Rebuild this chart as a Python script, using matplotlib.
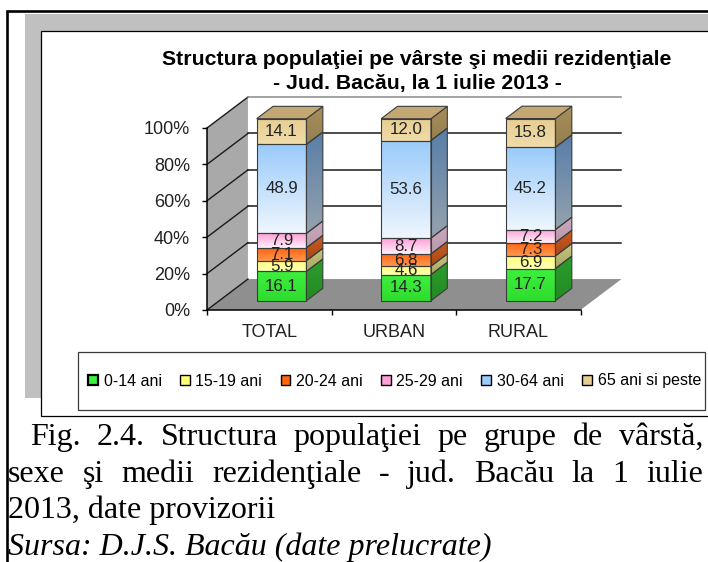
import numpy as np
import matplotlib
matplotlib.use('Agg')
import matplotlib.pyplot as plt
from matplotlib.patches import Polygon, Rectangle, Patch
from matplotlib.colors import LinearSegmentedColormap

# ---- data ----
categories = ['TOTAL', 'URBAN', 'RURAL']
age_groups = ['0-14 ani', '15-19 ani', '20-24 ani', '25-29 ani', '30-64 ani', '65 ani si peste']
total = [16.1, 5.9, 7.1, 7.9, 48.9, 14.1]
urban = [14.3, 4.6, 6.8, 8.7, 53.6, 12.0]
rural = [17.7, 6.9, 7.3, 7.2, 45.2, 15.8]
y_ticks = [0, 20, 40, 60, 80, 100]

title_lines = ['Structura populaţiei pe vârste şi medii rezidenţiale',
               '- Jud. Bacău, la 1 iulie 2013 -']
caption_lines = ['Fig. 2.4. Structura populaţiei pe grupe de vârstă,',
                 'sexe şi medii rezidenţiale - jud. Bacău la 1 iulie',
                 '2013, date provizorii',
                 'Sursa: D.J.S. Bacău (date prelucrate)']

# face colours per age group: (front top, front bottom), (side top, side bottom)
front_cols = [('#3ef03e', '#2edc2e'), ('#ffff7a', '#ffffb4'), ('#ff6410', '#ff9850'),
              ('#ff9ed6', '#fff2fa'), ('#9acbfa', '#eef6fe'), ('#e6cd92', '#f0dcaa')]
side_cols = [('#2c9e2c', '#238a23'), ('#c4c47c', '#a8a866'), ('#c85a20', '#a84818'),
             ('#cba8bd', '#b79aab'), ('#587ea8', '#95a2ae'), ('#a68e5c', '#96804f')]
top_col = '#c3a873'

plt.rcParams['font.family'] = ['Liberation Sans', 'DejaVu Sans']

fig = plt.figure(figsize=(7.08, 5.62), dpi=100)

# background frame, in pixel coordinates
bg = fig.add_axes([0, 0, 1, 1])
bg.set_xlim(0, 708)
bg.set_ylim(562, 0)
bg.axis('off')
bg.plot([7, 7, 720], [570, 11, 11], color='black', lw=1.9, solid_joinstyle='miter')
bg.add_patch(Rectangle((25, 14), 700, 384, fc='#c0c0c0', ec='none'))
bg.add_patch(Rectangle((41, 31), 700, 385, fc='white', ec='black', lw=0.9))
bg.add_patch(Rectangle((78, 352), 627, 58, fc='white', ec='#3a3a3a', lw=0.9))

for i, line in enumerate(title_lines):
    bg.text(417, 65 + 24 * i, line, ha='center', va='baseline',
            fontsize=15.3, fontweight='bold')

# ---- pseudo-3D chart axes: x = category index, y = percent ----
DX, DY = 0.329, 17.0          # full depth offset of the walls (data units)
Z0, Z1 = 0.30, 0.70           # bar front / back depth
HW = 0.2                      # half bar width

ax = fig.add_axes([0.20445, 0.42897, 0.70339, 0.41128])
ax.patch.set_visible(False)
xlim, ylim = (-1.0, 3.0), (-6, 121)
xl, xr = -0.5, len(categories) - 0.5

# side wall and floor
ax.add_patch(Polygon([(xl, 0), (xl, 100), (xl + DX, 100 + DY), (xl + DX, DY)],
                     fc='#a9a9a9', ec='none', zorder=1))
ax.add_patch(Polygon([(xl, 0), (xr, 0), (xr + DX, DY), (xl + DX, DY)],
                     fc='#8f8f8f', ec='none', zorder=1))
# gridlines
for v in y_ticks:
    col = '#8a8a8a' if v == 100 else '#1a1a1a'
    ax.plot([xl, xl + DX], [v, v + DY], color='#1a1a1a', lw=1.0, zorder=2)
    if v > 0:
        ax.plot([xl + DX, xr + DX], [v + DY, v + DY], color=col, lw=1.1, zorder=2)


def grad_poly(verts, c_top, c_bot, z):
    verts = np.asarray(verts)
    patch = Polygon(verts, fc='none', ec='#3c3c3c', lw=0.8, zorder=z + 0.1)
    ax.add_patch(patch)
    cmap = LinearSegmentedColormap.from_list('g', [c_bot, c_top])
    im = ax.imshow(np.linspace(0, 1, 64)[:, None], cmap=cmap, origin='lower',
                   extent=(verts[:, 0].min(), verts[:, 0].max(),
                           verts[:, 1].min(), verts[:, 1].max()),
                   aspect='auto', interpolation='bilinear', zorder=z)
    im.set_clip_path(patch)


for ci, vals in enumerate([total, urban, rural]):
    tops = np.cumsum(vals)
    bots = tops - np.array(vals)
    fx0 = ci - HW + Z0 * DX
    fx1 = ci + HW + Z0 * DX
    sx1 = ci + HW + Z1 * DX
    for gi, (b, t) in enumerate(zip(bots, tops)):
        # side face
        grad_poly([(fx1, b + Z0 * DY), (sx1, b + Z1 * DY),
                   (sx1, t + Z1 * DY), (fx1, t + Z0 * DY)],
                  side_cols[gi][0], side_cols[gi][1], 3)
        # front face
        grad_poly([(fx0, b + Z0 * DY), (fx1, b + Z0 * DY),
                   (fx1, t + Z0 * DY), (fx0, t + Z0 * DY)],
                  front_cols[gi][0], front_cols[gi][1], 3)
        ax.text(ci + Z0 * DX, (b + t) / 2 + Z0 * DY, f'{vals[gi]:.1f}',
                ha='center', va='center', fontsize=12.2, color='#222222', zorder=5)
    t = tops[-1]
    ax.add_patch(Polygon([(fx0, t + Z0 * DY), (fx1, t + Z0 * DY),
                          (sx1, t + Z1 * DY), (fx0 + (Z1 - Z0) * DX, t + Z1 * DY)],
                         fc=top_col, ec='#3c3c3c', lw=0.8, zorder=4))

ax.set_xlim(*xlim)
ax.set_ylim(*ylim)

# front axes through the library's spines and ticks
for s in ['top', 'right']:
    ax.spines[s].set_visible(False)
ax.spines['left'].set_position(('data', xl))
ax.spines['left'].set_bounds(0, 100)
ax.spines['bottom'].set_position(('data', 0))
ax.spines['bottom'].set_bounds(xl, xr)
for s in ['left', 'bottom']:
    ax.spines[s].set_linewidth(1.1)
    ax.spines[s].set_zorder(6)
ax.set_yticks(y_ticks)
ax.set_yticklabels([f'{v}%' for v in y_ticks])
ax.tick_params(axis='y', length=3.6, width=1.0, pad=8.5, labelsize=13, labelcolor='#222222')
ax.set_xticks(range(len(categories)))
ax.set_xticklabels(categories)
ax.set_xticks(np.arange(xl, xr + 0.01, 1.0), minor=True)
ax.tick_params(axis='x', which='major', length=0, pad=10, labelsize=13, labelcolor='#222222')
ax.tick_params(axis='x', which='minor', length=3.6, width=1.0)

# legend
handles = [Patch(facecolor=front_cols[i][0], edgecolor='black',
                 linewidth=1.6 if i == 0 else 1.0) for i in range(len(age_groups))]
fig.legend(handles, age_groups, loc='center', bbox_to_anchor=(394.5 / 708, 1 - 381 / 562),
           ncol=6, frameon=False, handlelength=0.62, handleheight=0.62, handletextpad=0.35,
           columnspacing=1.15, borderaxespad=0, borderpad=0,
           prop={'family': 'Liberation Sans', 'size': 11.5})

# caption, justified like the document text
renderer = fig.canvas.get_renderer()


def put_line(text, y, x0, x1=None, **kw):
    if x1 is None:
        bg.text(x0, y, text, ha='left', va='baseline', **kw)
        return
    words = text.split()
    objs = [bg.text(0, y, w, ha='left', va='baseline', **kw) for w in words]
    widths = [o.get_window_extent(renderer).width for o in objs]
    gap = ((x1 - x0) - sum(widths)) / (len(words) - 1)
    x = x0
    for o, w in zip(objs, widths):
        o.set_x(x)
        x += w + gap


cap_kw = dict(fontsize=23, family='Liberation Serif', color='black')
put_line(caption_lines[0], 445, 30, 703, **cap_kw)
put_line(caption_lines[1], 482, 8, 703, **cap_kw)
put_line(caption_lines[2], 518, 8, **cap_kw)
put_line(caption_lines[3], 555, 8, style='italic', **cap_kw)

fig.savefig('out.png', dpi=100)
